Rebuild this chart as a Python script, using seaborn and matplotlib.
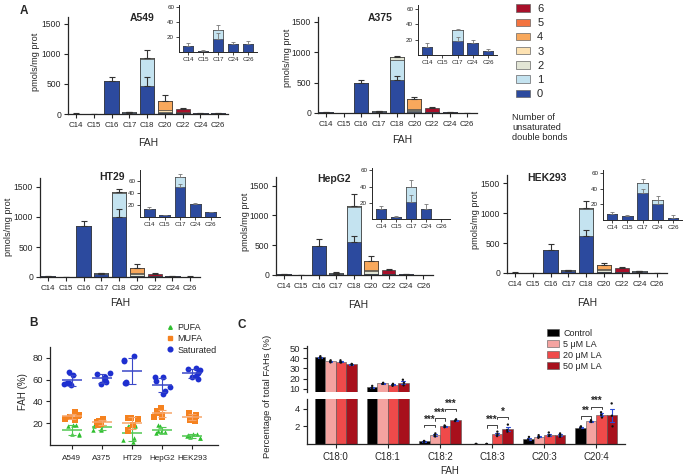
import numpy as np
import pandas as pd
import matplotlib
matplotlib.use("Agg")
import matplotlib.pyplot as plt
import seaborn as sns
from matplotlib.patches import Patch
from matplotlib.lines import Line2D

sns.set_theme(style="ticks")
plt.rcParams["font.family"] = ["Liberation Sans", "DejaVu Sans"]
plt.rcParams["axes.linewidth"] = 0.9
np.random.seed(3)

# ---------------- Panel A data ----------------
carbons = ["C14", "C15", "C16", "C17", "C18", "C20", "C22", "C24", "C26"]
inset_carbons = ["C14", "C15", "C17", "C24", "C26"]
db_labels = ["0", "1", "2", "3", "4", "5", "6"]
db_colors = ["#2c4a9e", "#c4e3f0", "#e2e5d5", "#fde2b2", "#f8a85c", "#f3733f", "#a8102a"]

# rows: number of unsaturated double bonds (0..6); columns: carbons
a549 = [[8, 2, 545, 18, 465, 10, 15, 10.5, 11],
        [0, 0, 0, 12, 445, 5, 0, 0, 0],
        [0, 0, 0, 0, 20, 25, 0, 0, 0],
        [0, 0, 0, 0, 0, 20, 0, 0, 0],
        [0, 0, 0, 0, 0, 160, 0, 0, 0],
        [0, 0, 0, 0, 0, 0, 10, 0, 0],
        [0, 0, 0, 0, 0, 0, 58, 0, 0]]
a549_err = [4, 1, 75, 6, 125, 95, 17, 3.5, 4]
a549_err0 = [0, 0, 0, 7, 155, 0, 0, 0, 0]

a375 = [[11, 0, 500, 18, 535, 15, 10, 15, 5],
        [0, 0, 0, 14, 337, 10, 0, 0, 0],
        [0, 0, 0, 0, 44, 30, 0, 0, 0],
        [0, 0, 0, 0, 0, 15, 0, 0, 0],
        [0, 0, 0, 0, 0, 164, 0, 0, 0],
        [0, 0, 0, 0, 0, 0, 10, 0, 0],
        [0, 0, 0, 0, 0, 0, 70, 0, 0]]
a375_err = [4, 0, 50, 2, 14, 26, 10, 5, 3]
a375_err0 = [0, 0, 0, 5, 75, 0, 0, 0, 0]

ht29 = [[13, 3, 850, 50, 1000, 15, 10, 21, 8],
        [0, 0, 0, 17, 400, 10, 0, 0, 0],
        [0, 0, 0, 0, 17, 25, 0, 0, 0],
        [0, 0, 0, 0, 0, 20, 0, 0, 0],
        [0, 0, 0, 0, 0, 87, 0, 0, 0],
        [0, 0, 0, 0, 0, 0, 10, 0, 0],
        [0, 0, 0, 0, 0, 0, 35, 0, 0]]
ht29_err = [3, 1, 78, 4, 56, 53, 15, 2, 1]
ht29_err0 = [0, 0, 0, 5, 140, 0, 0, 0, 0]

hepg2 = [[12, 3, 483, 21, 550, 15, 15, 12, 0],
         [0, 0, 0, 19, 590, 10, 0, 0, 0],
         [0, 0, 0, 0, 27, 40, 0, 0, 0],
         [0, 0, 0, 0, 0, 25, 0, 0, 0],
         [0, 0, 0, 0, 0, 150, 0, 0, 0],
         [0, 0, 0, 0, 0, 0, 10, 0, 0],
         [0, 0, 0, 0, 0, 0, 58, 0, 0]]
hepg2_err = [4, 0.5, 117, 8, 193, 75, 25, 6, 0]
hepg2_err0 = [0, 0, 0, 9, 100, 0, 0, 0, 0]

hek293 = [[8, 5, 390, 34, 620, 15, 10, 20, 3],
          [0, 0, 0, 13, 445, 10, 0, 6, 0],
          [0, 0, 0, 0, 15, 20, 0, 0, 0],
          [0, 0, 0, 0, 0, 15, 0, 0, 0],
          [0, 0, 0, 0, 0, 75, 0, 0, 0],
          [0, 0, 0, 0, 0, 0, 10, 0, 0],
          [0, 0, 0, 0, 0, 0, 60, 0, 0]]
hek293_err = [2, 2, 95, 6, 130, 35, 15, 5, 3]
hek293_err0 = [0, 0, 0, 6, 100, 0, 0, 6, 0]

# ---------------- Panel B data ----------------
cells_b = ["A549", "A375", "HT29", "HepG2", "HEK293"]
pufa = [[18, 18, 17, 10, 10, 9], [19, 18, 17, 15, 14, 14], [18, 17, 17, 6, 5, 3],
        [18, 17, 13, 12, 12, 11], [10, 10, 9, 8, 7, 6, 6]]
mufa = [[30, 28, 27, 26, 24, 23], [24, 22, 21, 20, 19, 18], [25, 25, 24, 18, 14, 13],
        [34, 31, 29, 28, 26, 26], [29, 28, 27, 26, 24, 23, 22]]
saturated = [[67, 64, 57, 55, 56, 57], [66, 65, 62, 60, 58, 56], [82, 78, 77, 58, 57, 57],
             [62, 62, 59, 53, 50, 47], [71, 70, 69, 66, 63, 62, 61]]

# ---------------- Panel C data ----------------
fah_c = ["C18:0", "C18:1", "C18:2", "C18:3", "C20:3", "C20:4"]
conds = ["Control", "5 \u03bcM LA", "20 \u03bcM LA", "50 \u03bcM LA"]
cond_colors = ["#000000", "#f4a3a0", "#ef4a4a", "#a8101c"]
control_rep = [[42, 41, 40], [13, 11, 11], [0.35, 0.3, 0.25], [0, 0, 0], [0.8, 0.5, 0.4], [2.0, 1.9, 1.7]]
la5_rep = [[38, 37, 36], [16, 15, 15], [1.2, 1.0, 0.85], [0, 0, 0], [1.0, 0.8, 0.7], [2.7, 2.6, 2.5]]
la20_rep = [[38, 36, 36], [15, 14, 13], [2.1, 2.0, 1.9], [1.4, 1.1, 0.9], [1.3, 1.0, 0.9], [3.6, 3.3, 3.0]]
la50_rep = [[34.5, 34, 33.5], [19, 16, 13.5], [2.8, 2.7, 2.6], [2.2, 1.6, 1.4], [1.2, 1.0, 0.8], [4.6, 3.2, 2.0]]

# ---------------- figure ----------------
W, H = 685, 476
fig = plt.figure(figsize=(W / 100, H / 100), dpi=100)


def add_ax(x0, y0, x1, y1):
    return fig.add_axes([x0 / W, 1 - y1 / H, (x1 - x0) / W, (y1 - y0) / H])


def ftext(x, y, s, **kw):
    fig.text(x / W, 1 - y / H, s, **kw)


def stacked(ax, data, err, err0, idx, width, ecolor, cap, lw, elw):
    cats = [carbons[i] for i in idx]
    arr = np.array(data, float)[:, idx]
    cum = np.cumsum(arr, axis=0)
    for k in range(6, -1, -1):
        sns.barplot(x=cats, y=cum[k], order=cats, color=db_colors[k], saturation=1,
                    width=width, edgecolor="#3a3a3a", linewidth=lw, errorbar=None, ax=ax)
    x = np.arange(len(idx))
    for top, e in ((cum[-1], np.array(err, float)[idx]), (cum[0], np.array(err0, float)[idx])):
        m = e > 0
        if m.any():
            ax.errorbar(x[m], top[m], yerr=[np.zeros(m.sum()), e[m]], fmt="none",
                        ecolor=ecolor, elinewidth=elw, capsize=cap, capthick=elw)


mains = [
    ("A549", a549, a549_err, a549_err0, (68, 17, 228, 114), 1610, (179, 5, 257, 52), 63, (142, 18), (35, 62), (148, 143)),
    ("A375", a375, a375_err, a375_err0, (318, 17, 477, 113), 1580, (418, 5, 497, 55), 65, (380, 18), (288, 58), (402, 140)),
    ("HT29", ht29, ht29_err, ht29_err0, (40, 178, 200, 277), 1650, (140, 170, 220, 217), 78, (112, 177), (9, 227), (120, 303)),
    ("HepG2", hepg2, hepg2_err, hepg2_err0, (276, 177, 433, 275), 1647, (372, 168, 450, 219), 63, (334, 179), (245, 222), (358, 305)),
    ("HEK293", hek293, hek293_err, hek293_err0, (507, 175, 667, 273), 1640, (603, 170, 682, 220), 64, (547, 178), (475, 220), (587, 303)),
]
main_idx = list(range(9))
inset_idx = [carbons.index(c) for c in inset_carbons]

for name, data, err, err0, box, ytop, ibox, iytop, tpos, ylpos, xlpos in mains:
    ax = add_ax(*box)
    stacked(ax, data, err, err0, main_idx, 0.8, "#333333", 2.5, 0.5, 0.8)
    ax.set_xlim(-0.45, 8.55)
    ax.set_ylim(0, ytop)
    ax.set_yticks([0, 500, 1000, 1500])
    ax.tick_params(labelsize=6.2, length=3, width=0.8, pad=2)
    ax.tick_params(axis="x", labelsize=5.7, pad=3)
    sns.despine(ax=ax)
    ax.set_xlabel("")
    ax.set_ylabel("")
    ftext(*tpos, name, fontsize=7.5, fontweight="bold", ha="center", va="center")
    ftext(*ylpos, "pmols/mg prot", fontsize=6.6, rotation=90, ha="center", va="center")
    ftext(*xlpos, "FAH", fontsize=7.5, ha="center", va="center")

    ia = add_ax(*ibox)
    stacked(ia, data, err, err0, inset_idx, 0.7, "#777777", 1.5, 0.4, 0.6)
    ia.set_xlim(-0.6, 4.6)
    ia.set_ylim(0, iytop)
    ia.set_yticks([20, 40, 60])
    ia.tick_params(labelsize=4.5, length=2, width=0.6, pad=1.5)
    for s in ("left", "bottom"):
        ia.spines[s].set_linewidth(0.7)
    sns.despine(ax=ia)
    ia.set_xlabel("")
    ia.set_ylabel("")

# legend A
handles = [Patch(facecolor=db_colors[k], edgecolor="#666666", linewidth=0.5) for k in range(6, -1, -1)]
fig.legend(handles, db_labels[::-1], loc="upper left", bbox_to_anchor=(516 / W, 1 - 4 / H),
           frameon=False, fontsize=8, handlelength=1.3, handleheight=0.65, labelspacing=0.38,
           handletextpad=0.6, borderpad=0, borderaxespad=0)
ftext(512, 113, "Number of\nunsaturated\ndouble bonds", fontsize=6.6, ha="left", va="top", linespacing=1.15)

ftext(24, 11, "A", fontsize=8.5, fontweight="bold", ha="center", va="center")
ftext(33, 323, "B", fontsize=8.5, fontweight="bold", ha="center", va="center")
ftext(242, 325, "C", fontsize=8.5, fontweight="bold", ha="center", va="center")

# ---------------- Panel B ----------------
rows = []
for t, lst in (("PUFA", pufa), ("MUFA", mufa), ("Saturated", saturated)):
    for c, vals in zip(cells_b, lst):
        for v in vals:
            rows.append({"cell": c, "type": t, "value": v})
dfb = pd.DataFrame(rows)
b_colors = {"PUFA": "#2fbf2f", "MUFA": "#f5821f", "Saturated": "#1e2fd0"}
b_line = {"PUFA": "#52c852", "MUFA": "#f7a56a", "Saturated": "#3a48c8"}
b_marker = {"PUFA": "^", "MUFA": "s", "Saturated": "o"}
b_size = {"PUFA": 3.2, "MUFA": 3.8, "Saturated": 4.2}

axb = add_ax(50, 347, 218, 445)
for t in ["PUFA", "MUFA", "Saturated"]:
    sub = dfb[dfb["type"] == t]
    sns.stripplot(data=sub, x="cell", y="value", order=cells_b, color=b_colors[t],
                  marker=b_marker[t], size=b_size[t], jitter=0.3, linewidth=0, ax=axb)
    stats = sub.groupby("cell")["value"].agg(["mean", "std"]).reindex(cells_b)
    xs = np.arange(len(cells_b))
    axb.hlines(stats["mean"], xs - 0.33, xs + 0.33, color=b_line[t], lw=1.1, zorder=3)
    axb.errorbar(xs, stats["mean"], yerr=stats["std"], fmt="none", ecolor=b_line[t],
                 elinewidth=0.8, capsize=3, capthick=0.8, zorder=3)
axb.set_xlim(-0.73, 4.87)
axb.set_ylim(0, 90)
axb.set_yticks([20, 40, 60, 80])
axb.tick_params(labelsize=6.8, length=3, width=0.8, pad=2)
axb.tick_params(axis="x", labelsize=5.9, pad=4)
axb.set_xlabel("")
axb.set_ylabel("")
sns.despine(ax=axb)
ftext(23, 392, "FAH (%)", fontsize=7, rotation=90, ha="center", va="center")
bh = [Line2D([], [], ls="", marker=b_marker[t], color=b_colors[t], markersize=b_size[t] * 0.8)
      for t in ["PUFA", "MUFA", "Saturated"]]
fig.legend(bh, ["PUFA", "MUFA", "Saturated"], loc="upper left", bbox_to_anchor=(165 / W, 1 - 323 / H),
           frameon=False, fontsize=6.5, handlelength=1.0, handletextpad=0.4, labelspacing=0.25,
           borderpad=0, borderaxespad=0)

# ---------------- Panel C ----------------
rows = []
for cname, rep in zip(conds, [control_rep, la5_rep, la20_rep, la50_rep]):
    for f, vals in zip(fah_c, rep):
        for v in vals:
            rows.append({"FAH": f, "cond": cname, "pct": v})
dfc = pd.DataFrame(rows)

axu = add_ax(307, 346, 625, 392)
axl = add_ax(307, 399, 625, 444)
for a in (axu, axl):
    sns.barplot(data=dfc, x="FAH", y="pct", hue="cond", order=fah_c, hue_order=conds,
                palette=cond_colors, saturation=1, errorbar="se", capsize=0.3,
                err_kws={"color": "#2a4bd7", "linewidth": 0.8}, edgecolor="#555555",
                linewidth=0.4, legend=False, ax=a)
    sns.stripplot(data=dfc, x="FAH", y="pct", hue="cond", order=fah_c, hue_order=conds,
                  palette=["#111111"] * 4, dodge=True, jitter=0.05, size=1.7, legend=False, ax=a)
    a.set_xlim(-0.55, 5.55)
    a.set_xlabel("")
    a.set_ylabel("")
    a.tick_params(labelsize=6.8, length=3, width=0.8, pad=2)
axu.set_ylim(7, 52)
axu.set_yticks([10, 20, 30, 40, 50])
axu.tick_params(axis="x", bottom=False, labelbottom=False)
sns.despine(ax=axu, bottom=True)
axl.set_ylim(0, 5.1)
axl.set_yticks([2, 4])
axl.tick_params(axis="x", labelsize=7, pad=3)
sns.despine(ax=axl)


def bracket(g, i, j, y, s):
    x1 = g - 0.3 + 0.2 * i
    x2 = g - 0.3 + 0.2 * j
    axl.plot([x1, x1, x2, x2], [y - 0.3, y, y, y - 0.3], color="#222222", lw=0.6, clip_on=False)
    axl.text((x1 + x2) / 2, y + 0.02, s, ha="center", va="bottom", fontsize=7, fontweight="bold")


bracket(2, 0, 1, 2.2, "***")
bracket(2, 1, 2, 2.95, "***")
bracket(2, 2, 3, 4.0, "***")
bracket(3, 1, 2, 2.1, "***")
bracket(3, 2, 3, 3.1, "*")
bracket(5, 0, 1, 3.15, "**")
bracket(5, 1, 2, 4.25, "***")

ftext(268, 396, "Percentage of total FAHs (%)", fontsize=6.8, rotation=90, ha="center", va="center")
ftext(450, 471, "FAH", fontsize=7, ha="center", va="center")
ch = [Patch(facecolor=c, edgecolor="#555555", linewidth=0.4) for c in cond_colors]
fig.legend(ch, conds, loc="upper left", bbox_to_anchor=(547 / W, 1 - 329 / H), frameon=False,
           fontsize=6.5, handlelength=1.3, handleheight=0.8, handletextpad=0.5, labelspacing=0.22,
           borderpad=0, borderaxespad=0)

fig.savefig("out.png", dpi=100)
